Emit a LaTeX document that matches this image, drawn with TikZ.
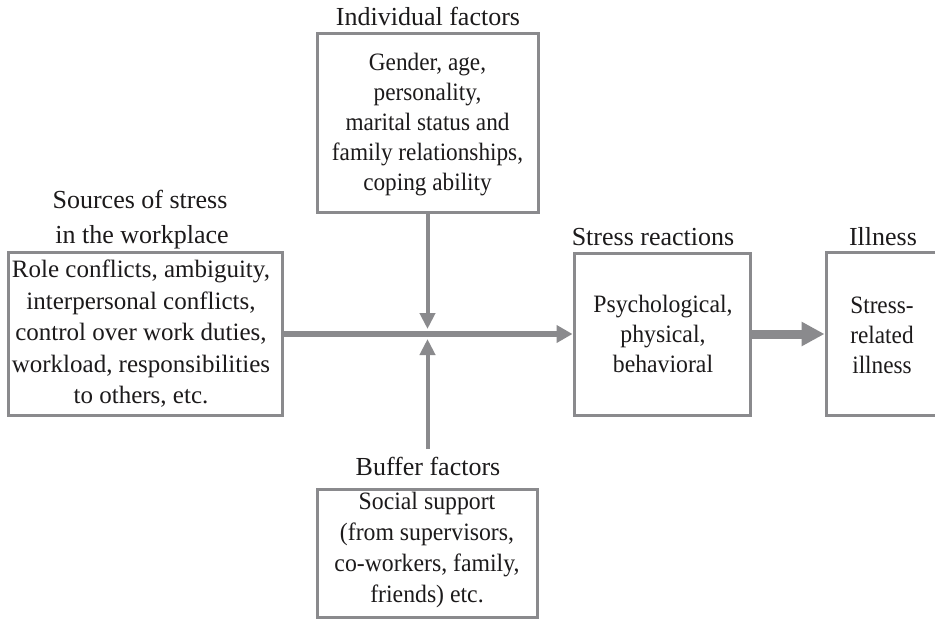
\documentclass[tikz,border=0pt]{standalone}
\usepackage{fontspec}
\setmainfont{Liberation Serif}
\usetikzlibrary{arrows.meta}
\definecolor{linegray}{HTML}{8A8A8D}
\definecolor{ink}{HTML}{1C1A1B}
% slightly condensed serif for the box texts
\newfontfamily\serifnarrow[FakeStretch=0.93]{Liberation Serif}
\newfontfamily\serifsemi[FakeStretch=0.95]{Liberation Serif}
\begin{document}
\begin{tikzpicture}[x=1pt,y=-1pt,
  every node/.style={text=ink},
  box/.style={draw=linegray, line width=3pt, fill=white, inner sep=0pt},
  heading/.style={anchor=base, inner sep=0pt, font=\fontsize{26}{34}\selectfont},
  bodytext/.style={align=center, inner sep=0pt},
  flow/.style={draw=linegray, line width=6pt, -{Triangle[length=16pt,width=17pt]}},
  modifier/.style={draw=linegray, line width=4pt, -{Triangle[length=16pt,width=15pt]}},
  outcome/.style={draw=linegray, line width=9pt, -{Triangle[length=23pt,width=23pt]}}
]
\fill[white] (0,0) rectangle (935,619);
\useasboundingbox (0,0) rectangle (935,619);

% boxes
\node[box, minimum width=274pt, minimum height=163pt] (src) at (145,334) {};
\node[box, minimum width=221pt, minimum height=179pt] (ind) at (427.5,122.5) {};
\node[box, minimum width=176pt, minimum height=162pt] (str) at (662,334) {};
\node[box, minimum width=112pt, minimum height=163pt] (ill) at (882,334) {};
\node[box, minimum width=220pt, minimum height=128pt] (buf) at (427,553) {};

% box contents
\node[bodytext, font=\fontsize{25}{31.5}\selectfont] (srctext) at (141,334)
  {Role conflicts, ambiguity,\\interpersonal conflicts,\\control over work duties,\\workload, responsibilities\\to others, etc.};
\node[bodytext, font=\serifnarrow\fontsize{25}{30}\selectfont] (indtext) at (427.5,124.5)
  {Gender, age,\\personality,\\marital status and\\family relationships,\\coping ability};
\node[bodytext, font=\serifsemi\fontsize{25}{30}\selectfont] (strtext) at (663,334)
  {Psychological,\\physical,\\behavioral};
\node[bodytext, font=\serifnarrow\fontsize{25}{30}\selectfont] (illtext) at (882,335)
  {Stress-\\related\\illness};
\node[bodytext, font=\serifsemi\fontsize{25}{31}\selectfont] (buftext) at (427,550)
  {Social support\\(from supervisors,\\co-workers, family,\\friends) etc.};

% headings
\node[heading] (srcT1) at (140,208) {Sources of stress};
\node[heading] (srcT2) at (142,243) {in the workplace};
\node[heading] (indT) at (428,25) {Individual factors};
\node[heading] (strT) at (653,245) {Stress reactions};
\node[heading] (illT) at (883,245) {Illness};
\node[heading] (bufT) at (428,475) {Buffer factors};

% meeting points on the main flow
\coordinate (meetT) at (427.5,329);
\coordinate (meetB) at (427.5,339);
\coordinate (bufStart) at (427.5,449);

% connectors
\draw[flow] (src.east) -- (str.west);
\draw[modifier] (ind.south) -- (meetT);
\draw[modifier] (bufStart) -- (meetB);
\draw[outcome] (str.east) -- (ill.west);
\end{tikzpicture}
\end{document}
